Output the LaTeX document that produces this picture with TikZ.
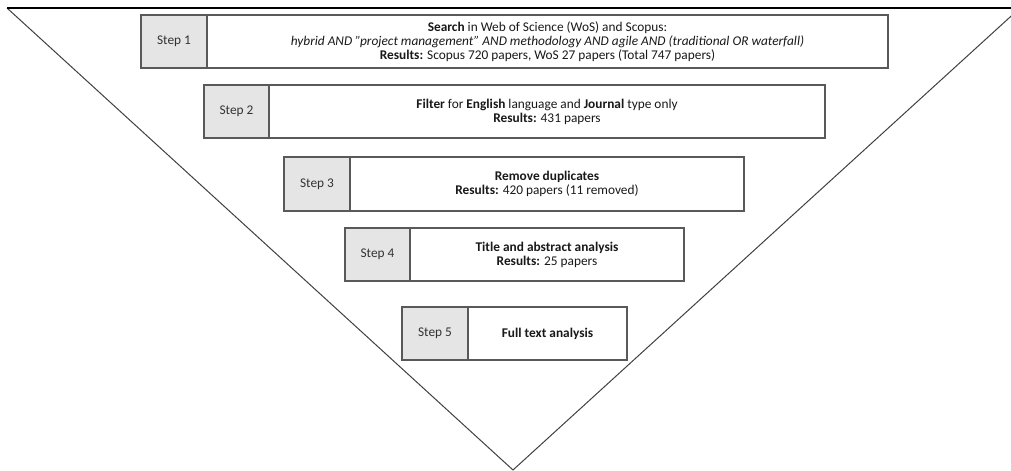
\documentclass[tikz,border=0pt]{standalone}
\usepackage{fontspec}
\setmainfont{Carlito}
\begin{document}
\begin{tikzpicture}[x=0.75pt,y=-0.75pt,
  graybox/.style={draw=black!65,line width=1.1pt,fill=black!10,inner sep=0pt,outer sep=0pt,
    font=\fontsize{10}{10.5}\selectfont,text=black!80},
  whitebox/.style={draw=black!65,line width=1.1pt,fill=white,inner sep=0pt,outer sep=0pt,
    align=center,font=\fontsize{10}{10.5}\selectfont,text=black!90},
  funnel/.style={draw=black!75,line width=0.75pt},
  topline/.style={draw=black,line width=1pt}]
\useasboundingbox (0,0) rectangle (1011,471);
\newcommand{\stepbox}[8]{%
  \node[graybox,anchor=north west,minimum width={(#3-#2)*0.75pt},minimum height={(#6-#5)*0.75pt}] (s#1) at (#2,#5) {#7};
  \node[whitebox,anchor=north west,minimum width={(#4-#3)*0.75pt},minimum height={(#6-#5)*0.75pt}] (t#1) at (#3,#5) {#8};
}
\begin{scope}
  \clip (0,0) rectangle (1011,471);
  \coordinate (tl) at (7,8);
  \coordinate (tr) at (1020,8);
  \coordinate (bv) at (513,470);
  \draw[funnel] (tl) -- (bv) -- (tr);
  \draw[topline] (tl) -- (tr);
\end{scope}
\stepbox{1}{141}{207}{888}{15}{68}{Step 1}{\textbf{Search} in Web of Science (WoS) and Scopus:\\
  \textit{hybrid AND \symbol{34}project management\symbol{34} AND methodology AND agile AND (traditional OR waterfall)}\\
  \textbf{Results:} Scopus 720 papers, WoS 27 papers (Total 747 papers)}
\stepbox{2}{204}{269}{825}{85}{138}{Step 2}{\textbf{Filter} for \textbf{English} language and \textbf{Journal} type only\\
  \textbf{Results:} 431 papers}
\stepbox{3}{284}{350}{744}{157}{211}{Step 3}{\textbf{Remove duplicates}\\
  \textbf{Results:} 420 papers (11 removed)}
\stepbox{4}{345}{410}{684}{228}{281}{Step 4}{\textbf{Title and abstract analysis}\\
  \textbf{Results:} 25 papers}
\stepbox{5}{402}{468}{627}{307}{360}{Step 5}{\textbf{Full text analysis}}
\end{tikzpicture}
\end{document}
